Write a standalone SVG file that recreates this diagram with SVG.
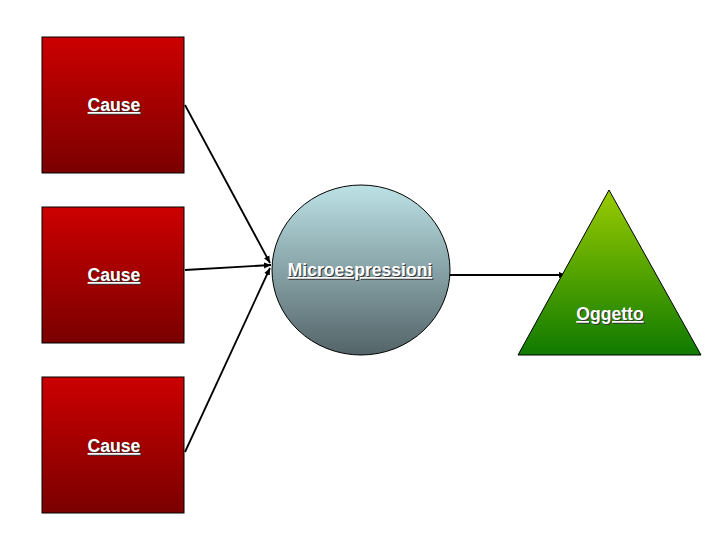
<svg xmlns="http://www.w3.org/2000/svg" width="720" height="540" viewBox="0 0 720 540">
<style>
.box{stroke:#000;stroke-width:1}
.lbl{font-family:"Liberation Sans",Arial,sans-serif;font-weight:bold;font-size:17.6px;text-anchor:middle;text-decoration:underline}
.sh{fill:#333}
.fg{fill:#fff}
.con{stroke:#000;stroke-width:1.8;fill:none}
</style>
<defs>
<linearGradient id="red" x1="0" y1="0" x2="0" y2="1"><stop offset="0" stop-color="#CC0000"/><stop offset="1" stop-color="#7A0000"/></linearGradient>
<linearGradient id="blue" x1="0" y1="0" x2="0" y2="1"><stop offset="0" stop-color="#BCE2E6"/><stop offset="1" stop-color="#536468"/></linearGradient>
<linearGradient id="green" x1="0" y1="0" x2="0" y2="1"><stop offset="0" stop-color="#99CC00"/><stop offset="1" stop-color="#0F7A00"/></linearGradient>
<marker id="arr" markerWidth="8" markerHeight="8" refX="7" refY="4" orient="auto" markerUnits="userSpaceOnUse"><path d="M0,1 L7,4 L0,7 Z" fill="#000"/></marker>
</defs>
<rect width="720" height="540" fill="#fff"/>
<g id="connectors">
<line class="con" x1="185" y1="105" x2="270" y2="263" marker-end="url(#arr)"/>
<line class="con" x1="185" y1="270" x2="271" y2="265" marker-end="url(#arr)"/>
<line class="con" x1="185" y1="452" x2="270" y2="268" marker-end="url(#arr)"/>
<line class="con" x1="450" y1="275" x2="566" y2="275" marker-end="url(#arr)"/>
</g>
<g id="cause1">
<rect class="box" x="42" y="37" width="142" height="136" fill="url(#red)"/>
<text class="lbl sh" x="115" y="112">Cause</text>
<text class="lbl fg" x="114" y="111">Cause</text>
</g>
<g id="cause2">
<rect class="box" x="42" y="207" width="142" height="136" fill="url(#red)"/>
<text class="lbl sh" x="115" y="282">Cause</text>
<text class="lbl fg" x="114" y="281">Cause</text>
</g>
<g id="cause3">
<rect class="box" x="42" y="377" width="142" height="136" fill="url(#red)"/>
<text class="lbl sh" x="115" y="453">Cause</text>
<text class="lbl fg" x="114" y="452">Cause</text>
</g>
<g id="micro">
<ellipse class="box" cx="361" cy="270" rx="89" ry="85" fill="url(#blue)"/>
<text class="lbl sh" x="361" y="277">Microespressioni</text>
<text class="lbl fg" x="360" y="276">Microespressioni</text>
</g>
<g id="oggetto">
<polygon class="box" points="609,190 701,355 518,355" fill="url(#green)"/>
<text class="lbl sh" x="611" y="321">Oggetto</text>
<text class="lbl fg" x="610" y="320">Oggetto</text>
</g>
</svg>
